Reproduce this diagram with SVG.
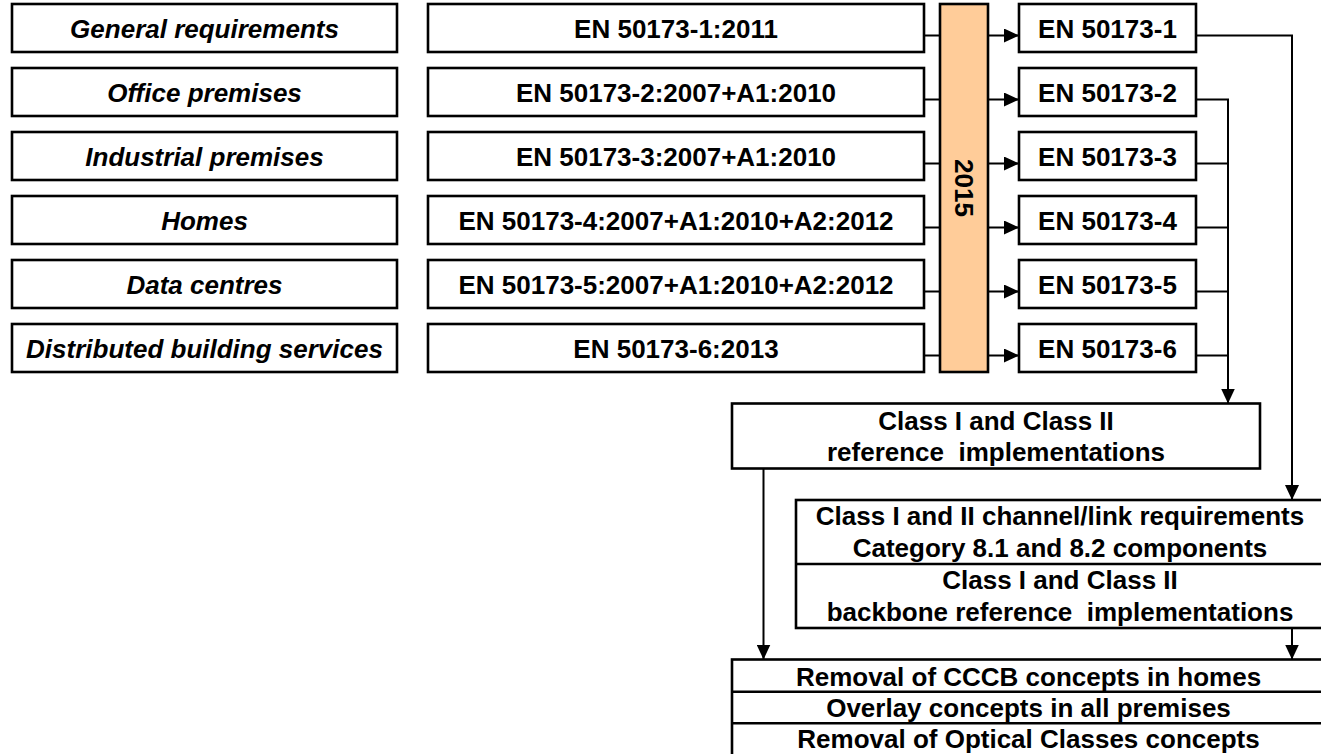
<svg xmlns="http://www.w3.org/2000/svg" width="1321" height="754" viewBox="0 0 1321 754">
  <style>
    .box { fill: #ffffff; stroke: #000000; stroke-width: 2.6; }
    .bar { fill: #FFCC99; stroke: #000000; stroke-width: 2.6; }
    .div { stroke: #000000; stroke-width: 2.6; fill: none; }
    .t { font-family: "Liberation Sans", Arial, sans-serif; font-size: 26px; font-weight: bold; fill: #000000; text-anchor: middle; }
    .ti { font-style: italic; }
    .ln { fill: none; stroke: #000000; stroke-width: 2; }
  </style>
  <defs>
    <marker id="arr" markerUnits="userSpaceOnUse" markerWidth="15" markerHeight="14" refX="15" refY="7" orient="auto">
      <path d="M0,0 L15,7 L0,14 z" fill="#000000"/>
    </marker>
  </defs>
  <rect width="1321" height="754" fill="#ffffff"/>

  <g id="connectors">
    <!-- middle column to 2015 bar -->
    <line class="ln" x1="924" y1="35.5" x2="940" y2="35.5"/>
    <line class="ln" x1="924" y1="99.5" x2="940" y2="99.5"/>
    <line class="ln" x1="924" y1="163.5" x2="940" y2="163.5"/>
    <line class="ln" x1="924" y1="227.5" x2="940" y2="227.5"/>
    <line class="ln" x1="924" y1="291.5" x2="940" y2="291.5"/>
    <line class="ln" x1="924" y1="355.5" x2="940" y2="355.5"/>
    <!-- 2015 bar to EN boxes -->
    <line class="ln" x1="988" y1="35.5" x2="1019" y2="35.5" marker-end="url(#arr)"/>
    <line class="ln" x1="988" y1="99.5" x2="1019" y2="99.5" marker-end="url(#arr)"/>
    <line class="ln" x1="988" y1="163.5" x2="1019" y2="163.5" marker-end="url(#arr)"/>
    <line class="ln" x1="988" y1="227.5" x2="1019" y2="227.5" marker-end="url(#arr)"/>
    <line class="ln" x1="988" y1="291.5" x2="1019" y2="291.5" marker-end="url(#arr)"/>
    <line class="ln" x1="988" y1="355.5" x2="1019" y2="355.5" marker-end="url(#arr)"/>
    <!-- EN 50173-1 to channel box -->
    <polyline class="ln" points="1196,35.5 1292,35.5 1292,500" marker-end="url(#arr)"/>
    <!-- EN 50173-2..6 to Class I box -->
    <polyline class="ln" points="1196,99.5 1228,99.5 1228,403.5" marker-end="url(#arr)"/>
    <line class="ln" x1="1196" y1="163.5" x2="1228" y2="163.5"/>
    <line class="ln" x1="1196" y1="227.5" x2="1228" y2="227.5"/>
    <line class="ln" x1="1196" y1="291.5" x2="1228" y2="291.5"/>
    <line class="ln" x1="1196" y1="355.5" x2="1228" y2="355.5"/>
    <!-- to bottom box -->
    <line class="ln" x1="763.5" y1="468" x2="763.5" y2="659.5" marker-end="url(#arr)"/>
    <line class="ln" x1="1292" y1="628" x2="1292" y2="659.5" marker-end="url(#arr)"/>
  </g>

  <g id="scope-general"><rect class="box" x="12" y="4" width="385" height="48"/><text class="t ti" x="204.5" y="37.5">General requirements</text></g>
  <g id="scope-office"><rect class="box" x="12" y="68" width="385" height="48"/><text class="t ti" x="204.5" y="101.5">Office premises</text></g>
  <g id="scope-industrial"><rect class="box" x="12" y="132" width="385" height="48"/><text class="t ti" x="204.5" y="165.5">Industrial premises</text></g>
  <g id="scope-homes"><rect class="box" x="12" y="196" width="385" height="48"/><text class="t ti" x="204.5" y="229.5">Homes</text></g>
  <g id="scope-dc"><rect class="box" x="12" y="260" width="385" height="48"/><text class="t ti" x="204.5" y="293.5">Data centres</text></g>
  <g id="scope-dbs"><rect class="box" x="12" y="324" width="385" height="48"/><text class="t ti" x="204.5" y="357.5">Distributed building services</text></g>

  <g id="old-1"><rect class="box" x="428" y="4" width="496" height="48"/><text class="t" x="676" y="37.5">EN 50173-1:2011</text></g>
  <g id="old-2"><rect class="box" x="428" y="68" width="496" height="48"/><text class="t" x="676" y="101.5">EN 50173-2:2007+A1:2010</text></g>
  <g id="old-3"><rect class="box" x="428" y="132" width="496" height="48"/><text class="t" x="676" y="165.5">EN 50173-3:2007+A1:2010</text></g>
  <g id="old-4"><rect class="box" x="428" y="196" width="496" height="48"/><text class="t" x="676" y="229.5">EN 50173-4:2007+A1:2010+A2:2012</text></g>
  <g id="old-5"><rect class="box" x="428" y="260" width="496" height="48"/><text class="t" x="676" y="293.5">EN 50173-5:2007+A1:2010+A2:2012</text></g>
  <g id="old-6"><rect class="box" x="428" y="324" width="496" height="48"/><text class="t" x="676" y="357.5">EN 50173-6:2013</text></g>

  <g id="bar-2015">
    <rect class="bar" x="940" y="4" width="48" height="368"/>
    <text class="t" transform="translate(955,188) rotate(90)" x="0" y="0">2015</text>
  </g>

  <g id="new-1"><rect class="box" x="1019" y="4" width="177" height="48"/><text class="t" x="1107.5" y="37.5">EN 50173-1</text></g>
  <g id="new-2"><rect class="box" x="1019" y="68" width="177" height="48"/><text class="t" x="1107.5" y="101.5">EN 50173-2</text></g>
  <g id="new-3"><rect class="box" x="1019" y="132" width="177" height="48"/><text class="t" x="1107.5" y="165.5">EN 50173-3</text></g>
  <g id="new-4"><rect class="box" x="1019" y="196" width="177" height="48"/><text class="t" x="1107.5" y="229.5">EN 50173-4</text></g>
  <g id="new-5"><rect class="box" x="1019" y="260" width="177" height="48"/><text class="t" x="1107.5" y="293.5">EN 50173-5</text></g>
  <g id="new-6"><rect class="box" x="1019" y="324" width="177" height="48"/><text class="t" x="1107.5" y="357.5">EN 50173-6</text></g>

  <g id="class-ref">
    <rect class="box" x="732" y="403.5" width="528" height="65"/>
    <text class="t" x="996" y="430">Class I and Class II</text>
    <text class="t" x="996" y="461" xml:space="preserve">reference  implementations</text>
  </g>

  <g id="channel-box">
    <rect class="box" x="796" y="500" width="528" height="128"/>
    <line class="div" x1="796" y1="564" x2="1324" y2="564"/>
    <text class="t" x="1060" y="525">Class I and II channel/link requirements</text>
    <text class="t" x="1060" y="556.5">Category 8.1 and 8.2 components</text>
    <text class="t" x="1060" y="589">Class I and Class II</text>
    <text class="t" x="1060" y="621" xml:space="preserve">backbone reference  implementations</text>
  </g>

  <g id="changes-box">
    <rect class="box" x="732" y="659.5" width="592" height="100"/>
    <line class="div" x1="732" y1="691.7" x2="1324" y2="691.7"/>
    <line class="div" x1="732" y1="723.3" x2="1324" y2="723.3"/>
    <text class="t" x="1028.5" y="685.5">Removal of CCCB concepts in homes</text>
    <text class="t" x="1028.5" y="716.5">Overlay concepts in all premises</text>
    <text class="t" x="1028.5" y="748">Removal of Optical Classes concepts</text>
  </g>
</svg>
